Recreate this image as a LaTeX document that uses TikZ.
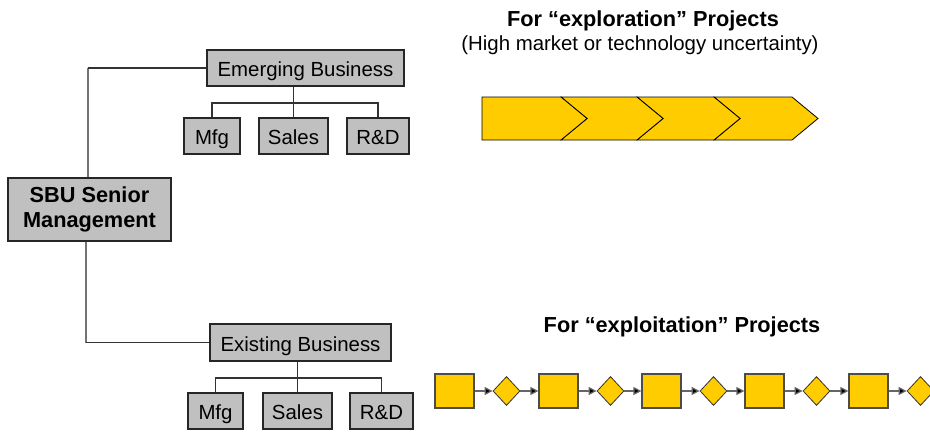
\documentclass[tikz,border=0pt]{standalone}
\usepackage{fontspec}
\setmainfont{Liberation Sans}
\usetikzlibrary{shapes.geometric,arrows.meta}
\definecolor{boxgray}{HTML}{C0C0C0}
\definecolor{stepyellow}{HTML}{FFCC00}
\tikzset{
  orgbox/.style={draw=black!85,fill=boxgray,line width=0.9pt,inner sep=0pt,
    font=\fontsize{15.3pt}{17pt}\selectfont,align=center},
  oneline/.style={text height=13.6pt,text depth=0.8pt},
  orgline/.style={draw=black!80,line width=0.8pt},
  spine/.style={draw=black!55,line width=1.1pt},
  sq/.style={draw=black!70,fill=stepyellow,line width=0.9pt,inner sep=0pt,
    minimum width=39*0.75pt,minimum height=34*0.75pt},
  dia/.style={draw=black!80,fill=stepyellow,diamond,line width=0.6pt,inner sep=0pt,
    minimum width=27*0.75pt,minimum height=29*0.75pt},
  flow/.style={draw=black!60,line width=0.9pt,-{Triangle[length=6pt,width=6pt,fill=black]}},
  chev/.style={draw=black,fill=stepyellow,line width=0.6pt,line join=miter},
  heading/.style={font=\bfseries\fontsize{16.3pt}{18pt}\selectfont},
}
\begin{document}
\begin{tikzpicture}[x=0.75pt,y=-0.75pt]
\useasboundingbox (0,0) rectangle (930,432);
\clip (0,0) rectangle (930,432);

% organisation chart
\node[orgbox,minimum width=163*0.75pt,minimum height=63*0.75pt,font=\bfseries\fontsize{16.3pt}{19pt}\selectfont]
  (sbu) at (89.5,209.5) {SBU Senior\\Management};
\node[orgbox,oneline,minimum width=197*0.75pt,minimum height=36*0.75pt] (emerg) at (305.5,68) {Emerging Business};
\node[orgbox,oneline,minimum width=56*0.75pt,minimum height=36*0.75pt] (mfgA) at (212,136) {Mfg};
\node[orgbox,oneline,minimum width=69*0.75pt,minimum height=36*0.75pt] (salesA) at (293.5,136) {Sales};
\node[orgbox,oneline,minimum width=62*0.75pt,minimum height=36*0.75pt] (rdA) at (378,136) {R\&D};

\node[orgbox,oneline,minimum width=181*0.75pt,minimum height=37*0.75pt] (exist) at (300.5,342.5) {Existing Business};
\node[orgbox,oneline,minimum width=55*0.75pt,minimum height=36*0.75pt] (mfgB) at (215.5,411) {Mfg};
\node[orgbox,oneline,minimum width=69*0.75pt,minimum height=36*0.75pt] (salesB) at (297.5,411) {Sales};
\node[orgbox,oneline,minimum width=63*0.75pt,minimum height=36*0.75pt] (rdB) at (381.5,411) {R\&D};

% links from the senior management box
\coordinate (cornA) at (88,68);
\coordinate (cornB) at (86,342.5);
\draw[spine] (sbu.north -| cornA) -- (cornA);
\draw[orgline] (cornA) -- (emerg.west);
\draw[spine] (sbu.south -| cornB) -- (cornB);
\draw[orgline] (cornB) -- (exist.west);

% unit trees
\coordinate (barA) at (0,103);
\draw[orgline] (emerg.south -| salesA) -- (salesA.north);
\draw[orgline] (mfgA.north) -- (mfgA.north |- barA) -- (rdA.north |- barA) -- (rdA.north);
\coordinate (barB) at (0,378);
\draw[orgline] (exist.south -| salesB) -- (salesB.north);
\draw[orgline] (mfgB.north) -- (mfgB.north |- barB) -- (rdB.north |- barB) -- (rdB.north);

% exploration
\node[heading] (hexp) at (643,21) {For “exploration” Projects};
\node[font=\fontsize{15.3pt}{17pt}\selectfont] (hsub) at (640,45) {(High market or technology uncertainty)};
\path[chev] (714,97) -- (792,97) -- (818,118.5) -- (792,140) -- (714,140) -- (740,118.5) -- cycle;
\path[chev] (637,97) -- (714,97) -- (740,118.5) -- (714,140) -- (637,140) -- (663,118.5) -- cycle;
\path[chev] (561,97) -- (637,97) -- (663,118.5) -- (637,140) -- (561,140) -- (587,118.5) -- cycle;
\path[chev] (482,97) -- (561,97) -- (587,118.5) -- (561,140) -- (482,140) -- cycle;

% exploitation
\node[heading] (hexl) at (682,327) {For “exploitation” Projects};
\foreach \i/\x in {1/454.5,2/558.5,3/661.5,4/764.5,5/868.5}{
  \node[sq] (s\i) at (\x,391) {};
  \node[dia] (d\i) at (\x+52,391) {};
  \draw[flow] (s\i) -- (d\i);
}
\foreach \i/\j in {1/2,2/3,3/4,4/5}{
  \draw[flow] (d\i) -- (s\j);
}
\end{tikzpicture}
\end{document}
